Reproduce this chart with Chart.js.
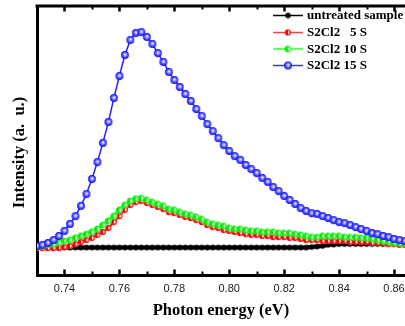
<!DOCTYPE html>
<html>
<head>
<meta charset="utf-8">
<script src="https://cdn.jsdelivr.net/npm/chart.js@4"></script>
<style>
html,body{margin:0;padding:0;background:#fff;overflow:hidden;}
canvas{display:block;}
</style>
</head>
<body>
<canvas id="c" width="405" height="326"></canvas>
<script>
// ---- data ----
const energy = [0.730,0.732,0.734,0.736,0.738,0.740,0.742,0.744,0.746,0.748,
  0.750,0.752,0.754,0.756,0.758,0.760,0.762,0.764,0.766,0.768,
  0.770,0.772,0.774,0.776,0.778,0.780,0.782,0.784,0.786,0.788,
  0.790,0.792,0.794,0.796,0.798,0.800,0.802,0.804,0.806,0.808,
  0.810,0.812,0.814,0.816,0.818,0.820,0.822,0.824,0.826,0.828,
  0.830,0.832,0.834,0.836,0.838,0.840,0.842,0.844,0.846,0.848,
  0.850,0.852,0.854,0.856,0.858,0.860,0.862,0.864];

const untreated = [10.2,10.2,10.2,10.2,10.2,10.2,10.2,10.2,10.2,10.2,
  10.2,10.2,10.2,10.2,10.2,10.2,10.2,10.2,10.2,10.2,
  10.2,10.2,10.2,10.2,10.2,10.2,10.2,10.2,10.2,10.2,
  10.2,10.2,10.2,10.2,10.2,10.2,10.2,10.2,10.2,10.2,
  10.2,10.2,10.2,10.2,10.2,10.2,10.2,10.2,10.2,10.2,
  10.4,10.6,10.8,11.2,11.3,11.5,11.5,11.5,11.5,11.5,
  11.5,11.5,11.5,11.5,11.5,11.5,11.5,11.5];

const s5 = [10.0,10.0,10.0,10.0,10.0,10.4,10.8,11.5,12.3,13.0,
  13.8,14.9,16.0,17.5,19.7,21.9,24.2,26.0,27.1,27.5,
  26.8,26.0,25.3,24.5,23.4,23.0,22.3,21.6,21.2,20.4,
  19.7,18.6,17.8,17.5,16.7,16.4,16.0,15.6,15.2,14.9,
  14.9,14.5,14.5,14.1,14.1,14.1,13.8,13.8,13.4,13.0,
  13.0,13.0,12.6,12.6,12.6,12.6,12.6,12.3,12.3,12.3,
  12.3,11.9,11.9,11.9,11.5,11.5,11.2,11.2];

const s10 = [10.4,10.8,11.2,11.5,11.9,12.6,13.0,13.8,14.5,15.2,
  16.0,17.1,18.6,20.1,21.9,24.2,26.0,27.5,28.3,28.6,
  27.9,27.1,26.4,25.7,24.5,24.2,23.4,22.7,22.3,21.6,
  20.8,19.7,19.0,18.6,18.2,17.5,17.1,17.1,16.7,16.4,
  16.4,16.0,16.0,16.0,15.6,15.6,15.6,15.2,14.9,14.5,
  14.1,14.1,14.5,14.5,14.5,14.5,14.1,14.1,14.1,13.8,
  13.8,13.4,13.0,12.6,12.3,11.9,11.9,11.5];

const s15 = [10.8,11.2,11.9,13.0,14.5,16.4,19.0,21.9,25.7,30.1,
  35.7,42.0,49.1,56.9,65.8,74.0,81.8,87.4,90.0,90.3,
  88.5,85.9,82.5,79.2,75.5,72.5,69.9,67.3,64.7,61.7,
  59.1,56.1,53.5,50.9,48.3,46.1,44.2,42.8,40.9,39.4,
  37.9,36.1,34.6,32.7,31.2,29.4,27.9,26.4,24.9,23.8,
  23.0,22.7,21.9,21.2,20.4,19.7,19.3,18.6,17.8,17.1,
  16.4,15.6,15.2,14.5,14.1,13.4,13.0,12.6];

const seriesLabels = ['untreated sample', 'S2Cl2   5 S', 'S2Cl2 10 S', 'S2Cl2 15 S'];
const majorTicks = [0.74,0.76,0.78,0.80,0.82,0.84,0.86];
const minorTicks = [0.75,0.77,0.79,0.81,0.83,0.85];
const xTitle = 'Photon energy (eV)';
const yTitle = 'Intensity (a.  u.)';

// ---- marker images ----
function marker(kind, color, r) {
  const s = Math.ceil(2 * r + 2);
  const c = document.createElement('canvas');
  c.width = s; c.height = s;
  const g = c.getContext('2d');
  const cx = s / 2, cy = s / 2;
  if (kind === 'sphere') {
    const gr = g.createRadialGradient(cx + 0.3, cy - 0.6, 0.2, cx, cy, r);
    gr.addColorStop(0, '#ffffff');
    gr.addColorStop(0.35, '#8f8fff');
    gr.addColorStop(1, color);
    g.fillStyle = gr;
    g.beginPath(); g.arc(cx, cy, r, 0, Math.PI * 2); g.fill();
  } else if (kind === 'half') {
    g.fillStyle = '#ffffff';
    g.beginPath(); g.arc(cx, cy, r, 0, Math.PI * 2); g.fill();
    g.fillStyle = color;
    g.beginPath(); g.arc(cx, cy, r, Math.PI / 2, Math.PI * 1.5); g.closePath(); g.fill();
    g.strokeStyle = color; g.lineWidth = 1.2;
    g.beginPath(); g.arc(cx, cy, r - 0.6, 0, Math.PI * 2); g.stroke();
  } else {
    g.fillStyle = color;
    g.beginPath(); g.arc(cx, cy, r, 0, Math.PI * 2); g.fill();
  }
  return c;
}
const mBlack = marker('solid', '#000000', 2.8);
const mRed = marker('half', '#ff0000', 3);
const mGreen = marker('half', '#00ee00', 3.3);
const mBlue = marker('sphere', '#0000ff', 3.9);

// ---- plugins ----
const framePlugin = {
  id: 'frame',
  afterDraw(chart) {
    const ctx = chart.ctx, a = chart.chartArea, xs = chart.scales.x;
    ctx.save();
    ctx.strokeStyle = '#000';
    ctx.lineWidth = 3;
    ctx.beginPath(); ctx.moveTo(a.left - 1.5, a.top); ctx.lineTo(chart.width + 2, a.top); ctx.stroke();
    const drawT = (vals, len, w) => {
      ctx.lineWidth = w;
      vals.forEach(v => {
        const px = Math.round(xs.getPixelForValue(v)) + 0.5;
        ctx.beginPath(); ctx.moveTo(px, a.bottom); ctx.lineTo(px, a.bottom - len); ctx.stroke();
        ctx.beginPath(); ctx.moveTo(px, a.top); ctx.lineTo(px, a.top + len); ctx.stroke();
      });
    };
    drawT(majorTicks, 5.5, 2.5);
    drawT(minorTicks, 3.5, 2);
    // tick labels
    ctx.fillStyle = '#222';
    ctx.font = '11px "Liberation Sans", Arial, sans-serif';
    ctx.textAlign = 'center'; ctx.textBaseline = 'middle';
    majorTicks.forEach(v => {
      ctx.fillText(v.toFixed(2), xs.getPixelForValue(v), a.bottom + 14);
    });
    // axis titles
    ctx.fillStyle = '#000';
    ctx.font = 'bold 16.5px "Liberation Serif", "Times New Roman", serif';
    ctx.fillText(xTitle, 221, 311);
    ctx.save();
    ctx.translate(19.5, 152.5);
    ctx.rotate(-Math.PI / 2);
    ctx.fillText(yTitle, 0, 0);
    ctx.restore();
    // legend
    const rows = [15, 32, 48.5, 65];
    const imgs = [mBlack, mRed, mGreen, mBlue];
    const lc = ['#000000', '#ff4040', '#33ff33', '#3333ff'];
    ctx.font = 'bold 13px "Liberation Serif", "Times New Roman", serif';
    ctx.textAlign = 'left';
    chart.data.datasets.forEach((ds, i) => {
      const y = rows[i];
      ctx.strokeStyle = lc[i]; ctx.lineWidth = 1.5;
      ctx.beginPath(); ctx.moveTo(273, y + 0.5); ctx.lineTo(303, y + 0.5); ctx.stroke();
      const im = imgs[i];
      ctx.drawImage(im, 288 - im.width / 2, y + 0.5 - im.height / 2);
      ctx.fillStyle = '#000';
      ctx.fillText(ds.label, 307, y + 1);
    });
    ctx.restore();
  }
};

const mk = (arr) => energy.map((e, i) => ({x: e, y: arr[i]}));

new Chart(document.getElementById('c'), {
  type: 'line',
  data: {
    datasets: [
      {label: seriesLabels[0], data: mk(untreated), borderColor: '#000', borderWidth: 4,
       pointStyle: mBlack, pointRadius: 3, order: 3},
      {label: seriesLabels[1], data: mk(s5), borderColor: '#ff0000', borderWidth: 2,
       pointStyle: mRed, pointRadius: 3, order: 2},
      {label: seriesLabels[2], data: mk(s10), borderColor: '#00ee00', borderWidth: 3.5,
       pointStyle: mGreen, pointRadius: 3, order: 1},
      {label: seriesLabels[3], data: mk(s15), borderColor: '#2222ff', borderWidth: 1.5,
       pointStyle: mBlue, pointRadius: 4, order: 0}
    ]
  },
  options: {
    responsive: false,
    animation: false,
    devicePixelRatio: 1,
    layout: {autoPadding: false, padding: {top: 6, left: 0, right: 0, bottom: 0}},
    plugins: {legend: {display: false}, tooltip: {enabled: false}},
    scales: {
      x: {
        type: 'linear', min: 0.73, max: 0.864,
        grid: {display: false, drawTicks: false},
        border: {display: true, width: 3, color: '#000'},
        afterBuildTicks: (s) => { s.ticks = majorTicks.map(v => ({value: v})); },
        afterFit: (s) => { s.height = 51; },
        ticks: {display: false}
      },
      y: {
        type: 'linear', min: 0, max: 100,
        grid: {display: false, drawTicks: false},
        border: {display: true, width: 3, color: '#000'},
        ticks: {display: false},
        afterFit: (s) => { s.width = 37; }
      }
    }
  },
  plugins: [framePlugin]
});
</script>
</body>
</html>
